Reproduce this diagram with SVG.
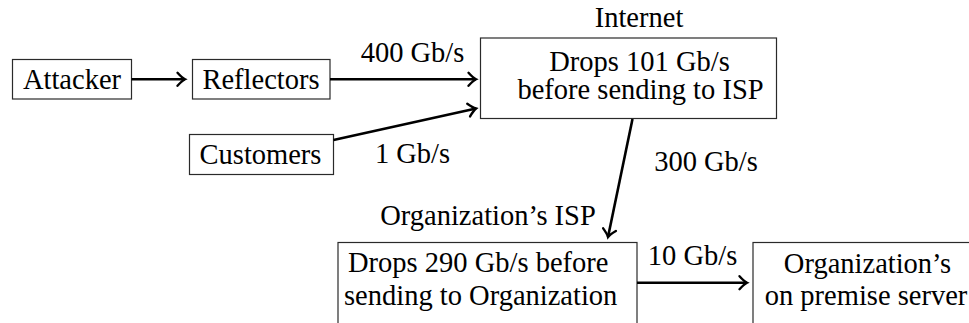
<svg xmlns="http://www.w3.org/2000/svg" width="969" height="323" viewBox="0 0 969 323">
  <style>
    .box { fill: #ffffff; stroke: #2a2a2a; stroke-width: 1.2; }
    text { font-family: "Liberation Serif", "Times New Roman", serif; font-size: 28.5px; fill: #000000; }
    .mid { text-anchor: middle; }
    .edge { stroke: #000000; stroke-width: 2.6; fill: none; }
  </style>
  <defs>
    <!-- open, slightly curved arrowhead shared by all connectors -->
    <marker id="arrow" markerUnits="userSpaceOnUse" markerWidth="20" markerHeight="20" viewBox="-12 -10 16 20" refX="0" refY="0" orient="auto">
      <path d="M-7.5,-6.5 Q-3,-1.5 0,0 Q-3,1.5 -7.5,6.5" fill="none" stroke="#000000" stroke-width="2.4" stroke-linecap="round"/>
    </marker>
  </defs>
  <rect width="969" height="323" fill="#ffffff"/>

  <g id="attacker">
    <rect class="box" x="12.5" y="59.5" width="119" height="39.5"/>
    <text class="mid" x="72" y="89.3">Attacker</text>
  </g>
  <g id="reflectors">
    <rect class="box" x="192.5" y="59.5" width="137.5" height="39.5"/>
    <text class="mid" x="261" y="89.3">Reflectors</text>
  </g>
  <g id="customers">
    <rect class="box" x="189.5" y="134.5" width="144" height="40"/>
    <text class="mid" x="260.5" y="164">Customers</text>
  </g>
  <g id="internet">
    <text class="mid" x="639" y="26.7">Internet</text>
    <rect class="box" x="480.5" y="38" width="296" height="80.5"/>
    <text class="mid" x="639.5" y="70.5">Drops 101 Gb/s</text>
    <text class="mid" x="640.5" y="99">before sending to ISP</text>
  </g>
  <g id="isp">
    <text class="mid" x="488" y="225">Organization’s ISP</text>
    <rect class="box" x="338" y="242.5" width="299" height="110"/>
    <text x="348" y="271.7">Drops 290 Gb/s before</text>
    <text x="344" y="305">sending to Organization</text>
  </g>
  <g id="server">
    <rect class="box" x="753" y="242.5" width="260" height="110"/>
    <text class="mid" x="867.5" y="273.3">Organization’s</text>
    <text class="mid" x="866" y="305">on premise server</text>
  </g>

  <g id="connectors">
    <line class="edge" x1="131.5" y1="79.3" x2="185" y2="79.3" marker-end="url(#arrow)"/>
    <line class="edge" x1="330" y1="79.3" x2="476" y2="79.3" marker-end="url(#arrow)"/>
    <text class="mid" x="412.5" y="61.7">400 Gb/s</text>
    <line class="edge" x1="333.5" y1="140" x2="476" y2="108.5" marker-end="url(#arrow)"/>
    <text class="mid" x="412.5" y="163.3">1 Gb/s</text>
    <line class="edge" x1="632.5" y1="119" x2="608" y2="237" marker-end="url(#arrow)"/>
    <text class="mid" x="706" y="170.5">300 Gb/s</text>
    <line class="edge" x1="637" y1="282.7" x2="747" y2="282.7" marker-end="url(#arrow)"/>
    <text class="mid" x="692.5" y="265">10 Gb/s</text>
  </g>
</svg>
